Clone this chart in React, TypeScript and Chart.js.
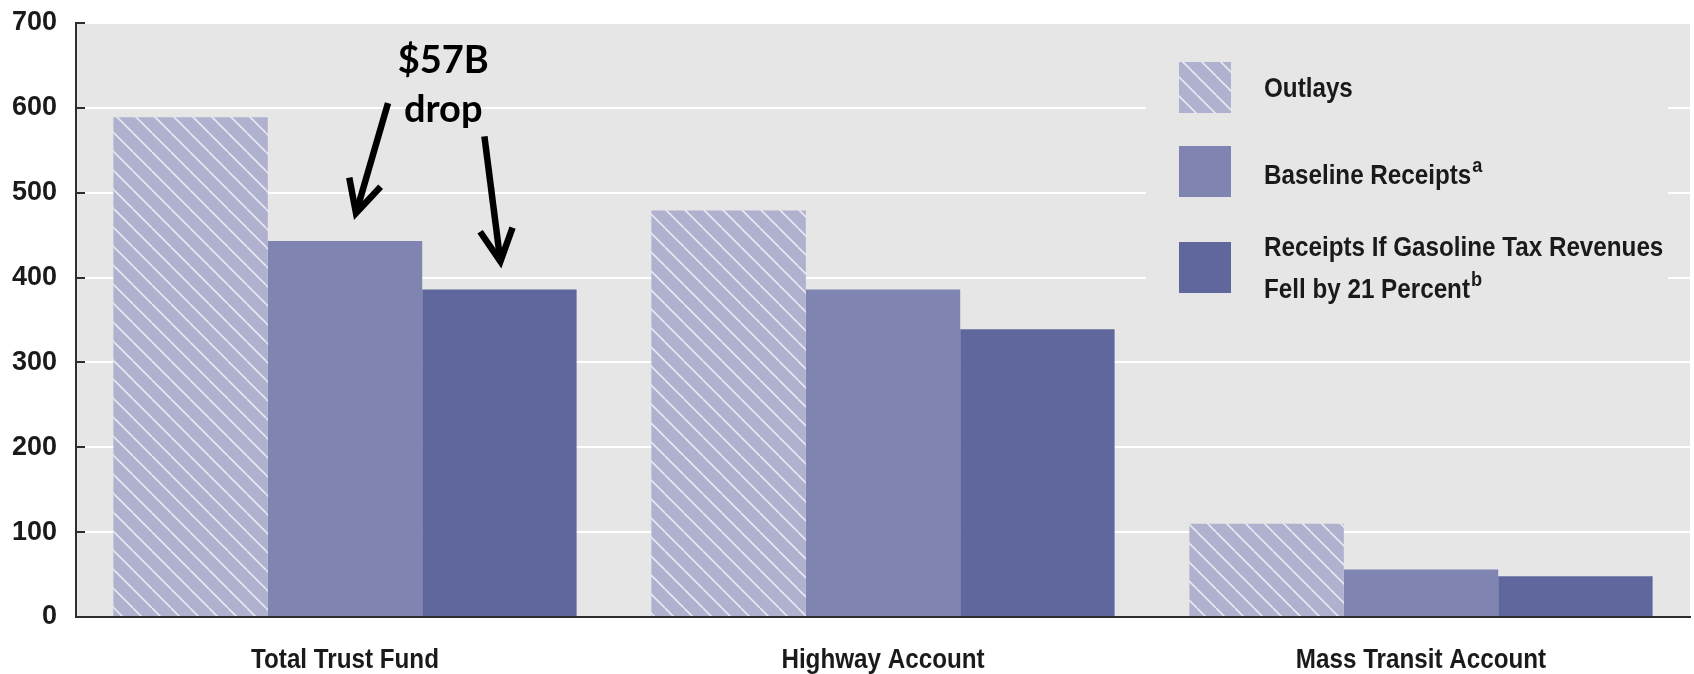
import React, { useEffect, useRef } from 'react';
import { Chart, registerables } from 'chart.js';

Chart.register(...registerables);

// ---- data ----
const categories = ['Total Trust Fund', 'Highway Account', 'Mass Transit Account'];
const outlays = [589, 479, 110];
const baselineReceipts = [443, 386, 56];
const reducedReceipts = [386, 339, 48];
const yTickValues = [0, 100, 200, 300, 400, 500, 600, 700];
const seriesNames = ['Outlays', 'Baseline Receipts', 'Receipts If Gasoline Tax Revenues Fell by 21 Percent'];
const legendLines = [['Outlays'], ['Baseline Receipts'], ['Receipts If Gasoline Tax Revenues', 'Fell by 21 Percent']];
const legendNotes = ['', 'a', 'b'];
const annotationText = ['$57B', 'drop'];

// ---- style ----
const BG = '#E6E6E6';
const C_OUT = '#AFB1CF';
const C_BASE = '#8084B1';
const C_RED = '#60679C';
const AXIS = '#2E2E2E';
const TEXT = '#1A1A1A';
const SANS = "'Liberation Sans', Arial, sans-serif";
const SQUEEZE = 0.865;

function makeStripePattern(ctx: CanvasRenderingContext2D): CanvasPattern | string {
  const s = 19;
  const c = document.createElement('canvas');
  c.width = s;
  c.height = s;
  const p = c.getContext('2d');
  if (!p) return C_OUT;
  p.fillStyle = C_OUT;
  p.fillRect(0, 0, s, s);
  p.strokeStyle = 'rgba(255,255,255,0.72)';
  p.lineWidth = 1.6;
  for (const off of [-s, 0, s]) {
    p.beginPath();
    p.moveTo(off, 0);
    p.lineTo(off + s, s);
    p.stroke();
  }
  return ctx.createPattern(c, 'repeat') || C_OUT;
}

function drawArrow(ctx: CanvasRenderingContext2D, tx: number, ty: number, hx: number, hy: number) {
  ctx.beginPath();
  ctx.moveTo(tx, ty);
  ctx.lineTo(hx, hy);
  ctx.stroke();
  const ang = Math.atan2(ty - hy, tx - hx);
  const half = (27 * Math.PI) / 180;
  const len = 36;
  ctx.beginPath();
  ctx.moveTo(hx + len * Math.cos(ang - half), hy + len * Math.sin(ang - half));
  ctx.lineTo(hx, hy);
  ctx.lineTo(hx + len * Math.cos(ang + half), hy + len * Math.sin(ang + half));
  ctx.stroke();
}

// condensed bold text: returns drawn width
function narrowText(ctx: CanvasRenderingContext2D, text: string, x: number, y: number, size: number, align: CanvasTextAlign): number {
  ctx.save();
  ctx.font = `bold ${size}px ${SANS}`;
  ctx.textAlign = align;
  ctx.textBaseline = 'alphabetic';
  ctx.translate(x, y);
  ctx.scale(SQUEEZE, 1);
  ctx.fillText(text, 0, 0);
  const w = ctx.measureText(text).width * SQUEEZE;
  ctx.restore();
  return w;
}

export default function App() {
  const ref = useRef<HTMLCanvasElement | null>(null);

  useEffect(() => {
    const canvas = ref.current;
    if (!canvas) return;
    const ctx0 = canvas.getContext('2d') as CanvasRenderingContext2D;
    const stripes = makeStripePattern(ctx0);

    const bgPlugin = {
      id: 'plotBg',
      beforeDraw(chart: any) {
        const { ctx, chartArea: a } = chart;
        ctx.save();
        ctx.fillStyle = BG;
        ctx.fillRect(a.left, a.top, a.right - a.left, a.bottom - a.top);
        ctx.restore();
      },
    };

    const overlayPlugin = {
      id: 'overlay',
      afterDatasetsDraw(chart: any) {
        const { ctx, chartArea: a } = chart;
        const y = chart.scales.y;
        const x = chart.scales.x;
        ctx.save();
        // inward tick marks
        ctx.strokeStyle = AXIS;
        ctx.lineWidth = 2;
        for (const v of yTickValues) {
          const py = Math.round(y.getPixelForValue(v));
          ctx.beginPath();
          ctx.moveTo(a.left, py);
          ctx.lineTo(a.left + 9, py);
          ctx.stroke();
        }
        // category labels
        ctx.fillStyle = TEXT;
        categories.forEach((c, i) => {
          narrowText(ctx, c, x.getPixelForTick(i), a.bottom + 51, 28, 'center');
        });
        // legend box
        const boxL = a.right - 544;
        const boxR = a.right - 22;
        ctx.fillStyle = BG;
        ctx.fillRect(boxL, a.top + 1, boxR - boxL, 297);
        const swX = a.right - 511;
        const txX = a.right - 426;
        const swTops = [39, 123, 219];
        const baselines = [[74], [161], [233, 275]];
        const fills = [stripes, C_BASE, C_RED];
        for (let i = 0; i < seriesNames.length; i++) {
          ctx.fillStyle = fills[i] as any;
          ctx.fillRect(swX, a.top + swTops[i], 52, 51);
          ctx.fillStyle = TEXT;
          const lines = legendLines[i];
          let endX = txX;
          let lastBase = 0;
          for (let j = 0; j < lines.length; j++) {
            const by = a.top + baselines[i][j];
            const w = narrowText(ctx, lines[j], txX, by, 28, 'left');
            endX = txX + w;
            lastBase = by;
          }
          if (legendNotes[i]) {
            narrowText(ctx, legendNotes[i], endX + 1, lastBase - 12, 21, 'left');
          }
        }
        // annotation
        const m1 = chart.getDatasetMeta(1).data[0];
        const m2 = chart.getDatasetMeta(2).data[0];
        if (m1 && m2) {
          const cx = (m1.x + m2.x) / 2 + 21;
          ctx.fillStyle = '#000';
          ctx.textAlign = 'center';
          ctx.textBaseline = 'alphabetic';
          ctx.font = "bold 38px Lato, 'Open Sans', sans-serif";
          ctx.fillText(annotationText[0], cx, a.top + 50);
          ctx.fillText(annotationText[1], cx, a.top + 99);
          ctx.strokeStyle = '#000';
          ctx.lineWidth = 6.5;
          ctx.lineCap = 'butt';
          ctx.lineJoin = 'miter';
          drawArrow(ctx, m1.x + 43, m1.y - 138, m1.x + 11, m1.y - 28);
          drawArrow(ctx, m2.x - 15, m2.y - 153, m2.x + 1, m2.y - 28);
        }
        ctx.restore();
      },
    };

    const chart = new Chart(canvas, {
      type: 'bar',
      data: {
        labels: categories,
        datasets: [
          { label: seriesNames[0], data: outlays, backgroundColor: stripes as any, borderWidth: 0 },
          { label: seriesNames[1], data: baselineReceipts, backgroundColor: C_BASE, borderWidth: 0 },
          { label: seriesNames[2], data: reducedReceipts, backgroundColor: C_RED, borderWidth: 0 },
        ],
      },
      options: {
        animation: false,
        responsive: false,
        maintainAspectRatio: false,
        devicePixelRatio: 1,
        layout: { padding: { top: 23, right: 4, left: 0, bottom: 0 } },
        datasets: { bar: { categoryPercentage: 0.861, barPercentage: 1 } },
        plugins: { legend: { display: false }, tooltip: { enabled: false }, title: { display: false } },
        scales: {
          x: {
            grid: { display: false, drawTicks: false },
            border: { display: true, color: AXIS, width: 2, z: 1 },
            ticks: { display: false },
            afterFit: (s: any) => {
              s.height = 57;
              s.paddingLeft = 0;
              s.paddingRight = 0;
            },
          },
          y: {
            min: 0,
            max: 700,
            afterBuildTicks: (s: any) => {
              s.ticks = yTickValues.map((v) => ({ value: v }));
            },
            grid: { color: '#FFFFFF', lineWidth: 2, drawTicks: false },
            border: { display: true, color: AXIS, width: 2, z: 1 },
            ticks: {
              color: TEXT,
              padding: 19,
              font: { family: SANS, size: 27, weight: 'bold' },
            },
            afterFit: (s: any) => {
              s.width = 76;
              s.paddingTop = 0;
              s.paddingBottom = 0;
            },
          },
        },
      },
      plugins: [bgPlugin, overlayPlugin],
    } as any);

    return () => chart.destroy();
  }, []);

  return (
    <div style={{ position: 'absolute', left: 0, top: 0, width: 1694, height: 674, background: '#fff' }}>
      <canvas ref={ref} width={1694} height={674} style={{ width: 1694, height: 674, display: 'block' }} />
    </div>
  );
}
